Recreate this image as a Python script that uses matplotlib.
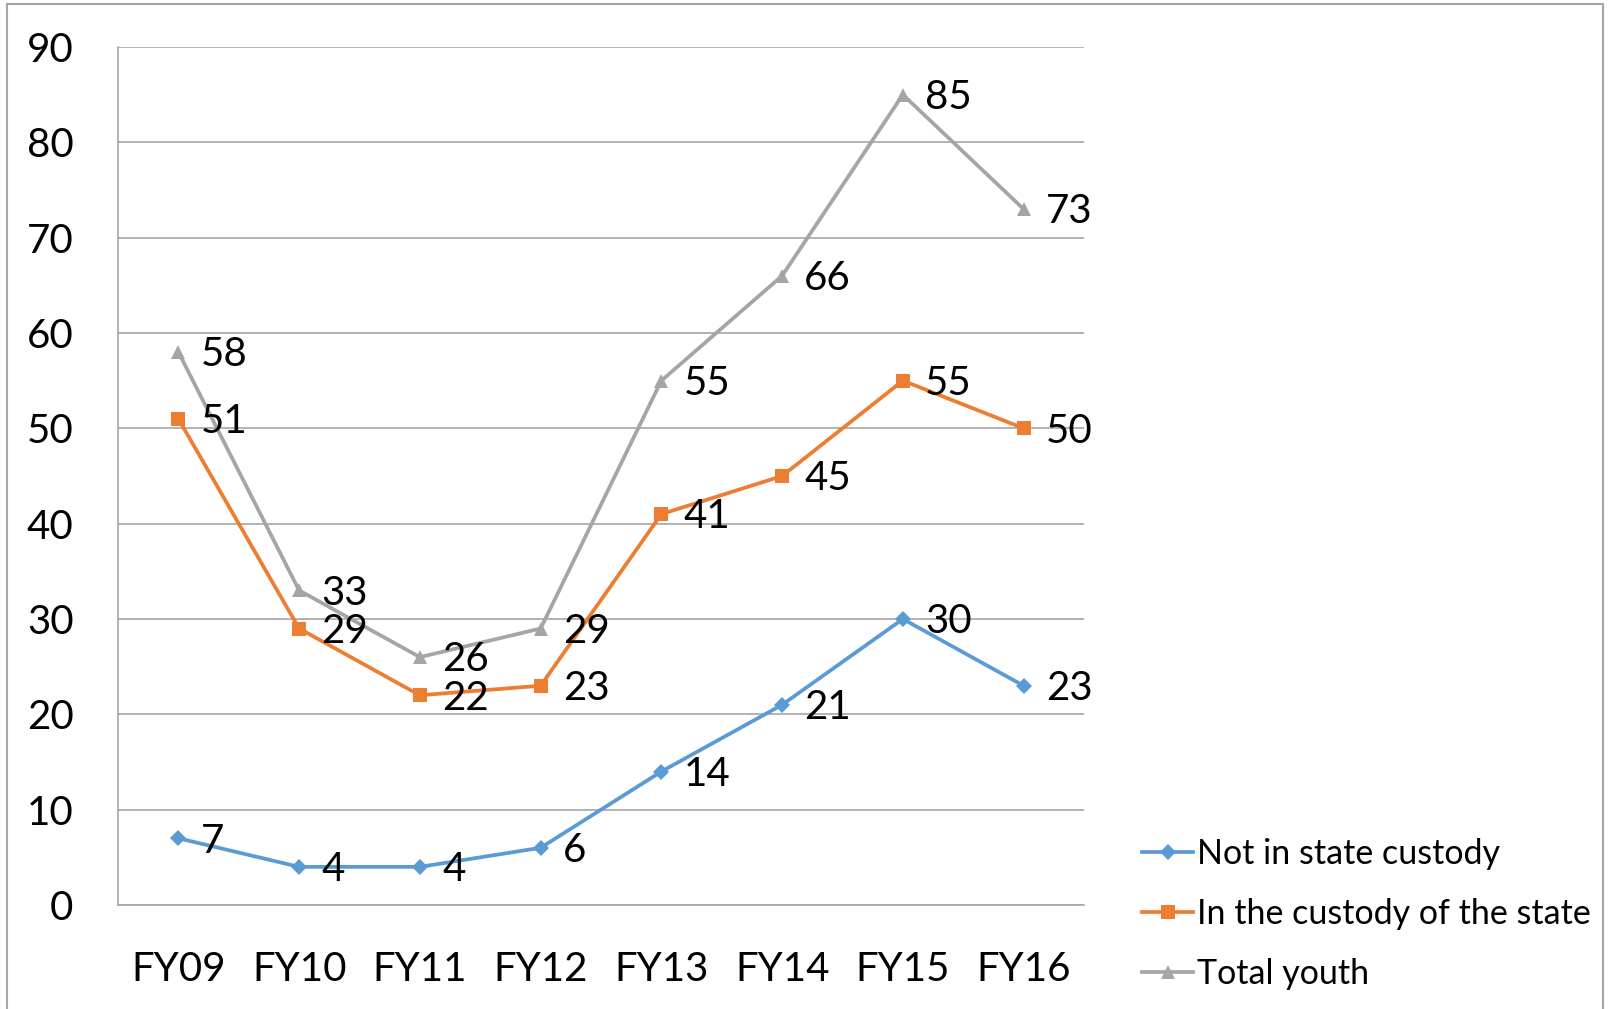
import matplotlib
matplotlib.use("Agg")
import matplotlib.pyplot as plt
from matplotlib.patches import Rectangle

years = ["FY09", "FY10", "FY11", "FY12", "FY13", "FY14", "FY15", "FY16"]
not_in_custody = [7, 4, 4, 6, 14, 21, 30, 23]
state_custody = [51, 29, 22, 23, 41, 45, 55, 50]
total_youth = [58, 33, 26, 29, 55, 66, 85, 73]

series = [
    ("Not in state custody", not_in_custody, "#5B9BD5", "D", 8.5),
    ("In the custody of the state", state_custody, "#ED7D31", "s", 10),
    ("Total youth", total_youth, "#A5A5A5", "^", 10),
]

plt.rcParams["font.family"] = ["Lato", "DejaVu Sans"]

fig = plt.figure(figsize=(16.1, 10.09), dpi=100)
ax = fig.add_axes([118 / 1610, 1 - 905 / 1009, 966 / 1610, 858 / 1009])

x = list(range(len(years)))
for name, vals, color, marker, ms in series:
    ax.plot(x, vals, color=color, lw=2.7, marker=marker, markersize=ms,
            markeredgewidth=0, label=name, zorder=3)
    for xi, v in zip(x, vals):
        ax.annotate(str(v), (xi, v), xytext=(16, -2), textcoords="offset points",
                    ha="left", va="center", fontsize=29, color="black", zorder=4)

ax.set_xlim(-0.5, 7.5)
ax.set_ylim(0, 90)
ax.set_yticks(range(0, 91, 10))
ax.set_xticks(x)
ax.set_xticklabels(years)
ax.tick_params(axis="both", length=0, labelsize=29, colors="black")
ax.tick_params(axis="y", pad=32)
ax.tick_params(axis="x", pad=33)
ax.grid(axis="y", color="#A6A6A6", lw=1.2)
ax.set_axisbelow(True)
for side in ["top", "right"]:
    ax.spines[side].set_visible(False)
for side in ["left", "bottom"]:
    ax.spines[side].set_color("#A6A6A6")
    ax.spines[side].set_linewidth(1.2)

ax.legend(loc="lower left", bbox_to_anchor=(1122 / 1610, -0.001), bbox_transform=fig.transFigure,
          frameon=False, fontsize=24.5, handlelength=1.5, handletextpad=0.1,
          labelspacing=0.82, borderaxespad=0.2)

# outer chart border
fig.patches.append(Rectangle((7 / 1610, -0.01), 1596 / 1610, 1.0 - 4 / 1009 + 0.01,
                             transform=fig.transFigure, fill=False,
                             edgecolor="#A6A6A6", lw=1.5))

fig.savefig("out.png", dpi=100)
